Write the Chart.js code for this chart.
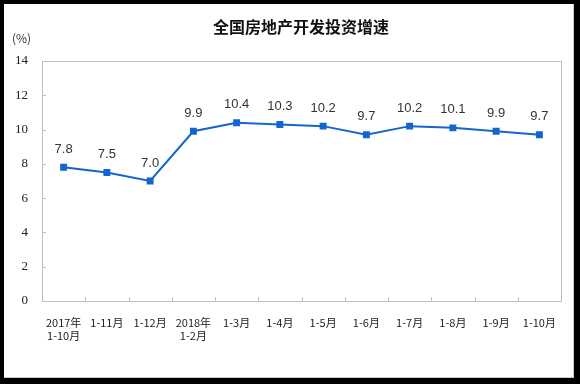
<!DOCTYPE html>
<html>
<head>
<meta charset="utf-8">
<script src="https://cdn.jsdelivr.net/npm/chart.js@4.4.0/dist/chart.umd.min.js"></script>
<style>
  html, body { margin: 0; padding: 0; background: #000; }
  #frame { position: absolute; left: 4px; top: 4px; width: 569px; height: 373px;
           background: #fff; border-right: 1px solid #c8c8c8; border-bottom: 1px solid #c8c8c8; }
  #frame canvas { display: block; }
</style>
</head>
<body>
<div id="frame"><canvas id="line_chart" width="569" height="373"></canvas></div>
<script>
// data
var periods = [
    ["2017年", "1-10月"], "1-11月", "1-12月", ["2018年", "1-2月"], "1-3月", "1-4月",
    "1-5月", "1-6月", "1-7月", "1-8月", "1-9月", "1-10月"
];
var growth = [7.8, 7.5, 7.0, 9.9, 10.4, 10.3, 10.2, 9.7, 10.2, 10.1, 9.9, 9.7];
var yTicks = [0, 2, 4, 6, 8, 10, 12, 14];

var chartTitle = "全国房地产开发投资增速";
var unitLabel = "(%)";

// plot box, inside ticks, title and point labels
var decorations = {
    id: "decorations",
    afterDraw: function(chart) {
        var ctx = chart.ctx;
        var area = chart.chartArea;
        var xs = chart.scales.x, ys = chart.scales.y;
        ctx.save();

        ctx.strokeStyle = "#bfbfbf";
        ctx.lineWidth = 1;
        ctx.strokeRect(Math.round(area.left) + 0.5, Math.round(area.top) + 0.5,
                       Math.round(area.right - area.left), Math.round(area.bottom - area.top));

        // y ticks, pointing inwards
        yTicks.forEach(function(v) {
            var y = Math.round(ys.getPixelForValue(v)) + 0.5;
            ctx.beginPath();
            ctx.moveTo(area.left, y);
            ctx.lineTo(area.left + 4, y);
            ctx.stroke();
        });
        // x ticks on category boundaries
        for (var i = 1; i < periods.length; i++) {
            var x = Math.round((xs.getPixelForValue(i - 1) + xs.getPixelForValue(i)) / 2) + 0.5;
            ctx.beginPath();
            ctx.moveTo(x, area.bottom);
            ctx.lineTo(x, area.bottom - 4);
            ctx.stroke();
        }

        ctx.fillStyle = "#111";
        ctx.font = "bold 16px 'Noto Sans CJK SC'";
        ctx.textAlign = "center";
        ctx.textBaseline = "middle";
        ctx.fillText(chartTitle, 297, 23);

        ctx.font = "12px 'Noto Sans CJK SC'";
        ctx.textAlign = "left";
        ctx.fillStyle = "#333";
        ctx.fillText(unitLabel, 8, 34);

        ctx.font = "13px 'Liberation Sans'";
        ctx.textAlign = "center";
        ctx.fillStyle = "#333";
        var meta = chart.getDatasetMeta(0);
        meta.data.forEach(function(pt, k) {
            ctx.fillText(growth[k].toFixed(1), pt.x, pt.y - 18);
        });
        ctx.restore();
    }
};

var ctx = document.getElementById("line_chart").getContext("2d");
var myChart = new Chart(ctx, {
    type: "line",
    data: {
        labels: periods,
        datasets: [{
            label: "增速",
            data: growth,
            borderColor: "#1565d0",
            backgroundColor: "#1565d0",
            borderWidth: 2,
            pointStyle: "rect",
            pointRadius: 3.5,
            pointHoverRadius: 3.5,
            fill: false,
            tension: 0
        }]
    },
    options: {
        responsive: false,
        animation: false,
        layout: { padding: { top: 57, right: 12, left: 0, bottom: 0 } },
        plugins: {
            legend: { display: false },
            title: { display: false },
            tooltip: { enabled: false }
        },
        scales: {
            x: {
                offset: true,
                grid: { display: false },
                border: { display: false },
                ticks: {
                    color: "#222",
                    font: { family: "'Noto Sans CJK SC'", size: 11 },
                    padding: 7,
                    maxRotation: 0,
                    autoSkip: false
                },
                afterFit: function(scale) { scale.height = 76; }
            },
            y: {
                min: 0,
                max: 14,
                grid: { display: false },
                border: { display: false },
                afterBuildTicks: function(scale) {
                    scale.ticks = yTicks.map(function(v) { return { value: v }; });
                },
                ticks: {
                    color: "#222",
                    font: { family: "'Liberation Serif'", size: 13 },
                    padding: 6
                },
                afterFit: function(scale) { scale.width = 38; }
            }
        }
    },
    plugins: [decorations]
});
</script>
</body>
</html>
